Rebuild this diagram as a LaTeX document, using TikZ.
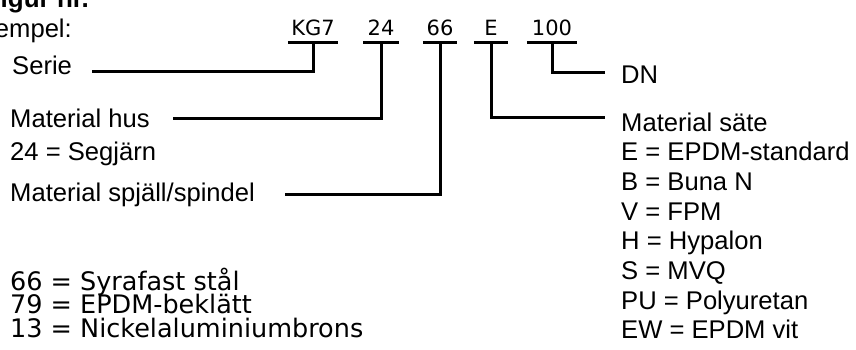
\documentclass[tikz,border=0pt]{standalone}
\usepackage{fontspec}
\setmainfont{Liberation Sans}
\newfontfamily\dejavu{DejaVu Sans}
\begin{document}
\begin{tikzpicture}[
    x=1pt, y=-1pt,
    code part/.style={font=\dejavu\fontsize{21}{25}\selectfont, inner sep=0pt, anchor=base, text depth=7pt},
    label text/.style={font=\fontsize{25.6}{30}\selectfont, inner sep=0pt, anchor=base west},
    value text/.style={font=\dejavu\fontsize{25.5}{28}\selectfont, inner sep=0pt, anchor=base west},
    link line/.style={draw=black, line width=3pt},
    under line/.style={draw=black, line width=2.6pt}
]
\clip (0,0) rectangle (856,349);

% Heading
\node[font=\bfseries\fontsize{26}{30}\selectfont, inner sep=0pt, anchor=base east] (figur) at (89,7) {Figur nr.};
\node[label text, anchor=base east] (exempel) at (72,37) {Exempel:};

% Code parts
\node[code part, minimum width=50pt] (kg7) at (313,35) {KG7};
\node[code part, minimum width=35pt] (hus) at (381,35) {24};
\node[code part, minimum width=34pt] (spjall) at (440,35) {66};
\node[code part, minimum width=34pt] (sate) at (491,35) {E};
\node[code part, minimum width=50pt] (dn) at (552,35) {100};
\foreach \p in {kg7,hus,spjall,sate,dn}
    \draw[under line] (\p.south west) -- (\p.south east);

% Left labels
\node[label text] (serie) at (12,74) {Serie};
\node[label text] (mhus) at (10,127) {Material hus};
\node[label text] (segjarn) at (10,160) {24 = Segjärn};
\node[label text] (mspjall) at (10,201) {Material spjäll/spindel};
\node[value text] (v66) at (10,290) {66 = Syrafast stål};
\node[value text] (v79) at (10,313.5) {79 = EPDM-beklätt};
\node[value text] (v13) at (10,337) {13 = Nickelaluminiumbrons};

% Right labels
\node[label text] (dnlabel) at (621,83) {DN};
\node[label text] (msate) at (621,131) {Material säte};
\foreach \t [count=\i] in {E = EPDM-standard, B = Buna N, V = FPM, H = Hypalon,
                           S = MVQ, PU = Polyuretan, EW = EPDM vit}
    \node[label text] (sate\i) at (621,131+29.7*\i) {\t};

% Line ends
\coordinate (serie end) at (92,71);
\coordinate (hus end) at (173,118);
\coordinate (spjall end) at (285,194);
\coordinate (dn end) at (605,72);
\coordinate (sate end) at (605,117);

% Connectors
\draw[link line] (kg7.south) |- (serie end);
\draw[link line] (hus.south) |- (hus end);
\draw[link line] (spjall.south) |- (spjall end);
\draw[link line] (sate.south) |- (sate end);
\draw[link line] (dn.south) |- (dn end);
\end{tikzpicture}
\end{document}
